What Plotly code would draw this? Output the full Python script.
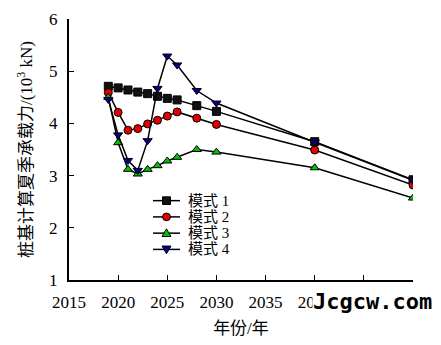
import plotly.graph_objects as go

years = [2019, 2020, 2021, 2022, 2023, 2024, 2025, 2026, 2028, 2030, 2040, 2050]
mode1 = [4.71, 4.68, 4.64, 4.60, 4.57, 4.52, 4.48, 4.45, 4.34, 4.23, 3.65, 2.92]
mode2 = [4.59, 4.21, 3.87, 3.90, 3.99, 4.06, 4.14, 4.22, 4.10, 3.98, 3.49, 2.82]
mode3 = [4.50, 3.63, 3.12, 3.03, 3.12, 3.19, 3.28, 3.35, 3.50, 3.45, 3.15, 2.57]
mode4 = [4.46, 3.78, 3.29, 3.10, 3.67, 4.67, 5.29, 5.12, 4.63, 4.39, 3.64, 2.91]
names = ["模式 1", "模式 2", "模式 3", "模式 4"]
xticks = [2015, 2020, 2025, 2030, 2035, 2040, 2045, 2050]
yticks = [1, 2, 3, 4, 5, 6]

serif = "Liberation Serif, Noto Sans CJK SC, serif"

styles = [
    dict(symbol="square", color="#111111"),
    dict(symbol="circle", color="#e00000"),
    dict(symbol="triangle-up", color="#00c000"),
    dict(symbol="triangle-down", color="#000090"),
]

W, H = 441, 345
L, R, T, B = 69, 28, 10, 62
PW, PH = W - L - R, H - T - B


def px(x):
    return (x - L) / PW


def py(y):
    return (H - B - y) / PH


fig = go.Figure()
for name, ys, st in zip(names, [mode1, mode2, mode3, mode4], styles):
    fig.add_trace(go.Scatter(
        x=years, y=ys, name=name, mode="lines+markers", showlegend=False,
        line=dict(color="black", width=1.5),
        marker=dict(symbol=st["symbol"], color=st["color"], size=8,
                    line=dict(color="black", width=1)),
    ))

# manual legend (decoration drawn as shapes + text)
shapes = []
annotations = []
for i, (name, st) in enumerate(zip(names, styles)):
    yc = 200 + 17 * i
    shapes.append(dict(type="line", xref="paper", yref="paper",
                       x0=px(153), x1=px(180), y0=py(yc), y1=py(yc),
                       line=dict(color="black", width=1.5)))
    cx, r = 166.5, 4
    if st["symbol"] == "square":
        shapes.append(dict(type="rect", xref="paper", yref="paper",
                           x0=px(cx - r), x1=px(cx + r), y0=py(yc - r), y1=py(yc + r),
                           fillcolor=st["color"], line=dict(color="black", width=1)))
    elif st["symbol"] == "circle":
        shapes.append(dict(type="circle", xref="paper", yref="paper",
                           x0=px(cx - r), x1=px(cx + r), y0=py(yc - r), y1=py(yc + r),
                           fillcolor=st["color"], line=dict(color="black", width=1)))
    else:
        if st["symbol"] == "triangle-up":
            pts = [(cx - 4.5, yc + 3.5), (cx + 4.5, yc + 3.5), (cx, yc - 4.5)]
        else:
            pts = [(cx - 4.5, yc - 3.5), (cx + 4.5, yc - 3.5), (cx, yc + 4.5)]
        path = "M " + " L ".join(f"{px(a):.5f},{py(b):.5f}" for a, b in pts) + " Z"
        shapes.append(dict(type="path", xref="paper", yref="paper", path=path,
                           fillcolor=st["color"], line=dict(color="black", width=1)))
    annotations.append(dict(x=px(186), y=py(yc), xref="paper", yref="paper",
                            xanchor="left", yanchor="middle", showarrow=False,
                            text=name, font=dict(family=serif, size=15, color="black")))

annotations.append(dict(x=px(433), y=py(305), xref="paper", yref="paper",
                        xanchor="right", yanchor="middle", showarrow=False,
                        text="<b>Jcgcw.com</b>", bgcolor="white", borderpad=0,
                        font=dict(family="DejaVu Sans Mono, monospace", size=22, color="black")))

fig.update_layout(
    width=W, height=H,
    margin=dict(l=L, r=R, t=T, b=B),
    plot_bgcolor="white", paper_bgcolor="white",
    font=dict(family=serif, size=16, color="black"),
    showlegend=False,
    shapes=shapes, annotations=annotations,
    xaxis=dict(range=[2015, 2050], tickvals=xticks, ticks="inside", ticklen=5,
               tickcolor="black", showline=True, linecolor="black", linewidth=2,
               showgrid=False, zeroline=False, ticklabelstandoff=6,
               ticklabeloverflow="allow",
               tickfont=dict(family=serif, size=17),
               title=dict(text="年份/年", font=dict(family=serif, size=17), standoff=11)),
    yaxis=dict(range=[1, 6], tickvals=yticks, ticks="inside", ticklen=5,
               tickcolor="black", showline=True, linecolor="black", linewidth=2,
               showgrid=False, zeroline=False, ticklabelstandoff=6,
               ticklabeloverflow="allow",
               tickfont=dict(family=serif, size=17),
               title=dict(text="桩基计算夏季承载力/(10<sup>3</sup> kN)",
                          font=dict(family=serif, size=17), standoff=12)),
)

fig.write_html("out.html")
